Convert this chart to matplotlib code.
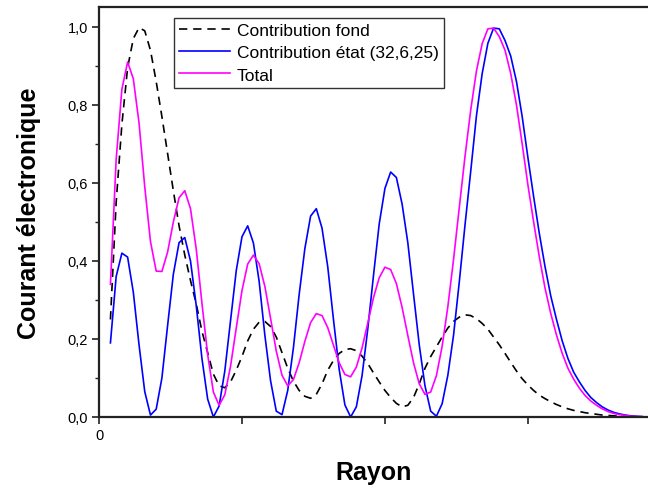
import matplotlib.pyplot as plt
from matplotlib.ticker import FixedLocator, NullFormatter

plt.rcParams['font.family'] = ['Liberation Sans', 'DejaVu Sans']

# Rayon (unites arbitraires, une graduation = 1)
rayon = [0.08, 0.12, 0.16, 0.20, 0.24, 0.28, 0.32, 0.36, 0.40, 0.44,
         0.48, 0.52, 0.56, 0.60, 0.64, 0.68, 0.72, 0.76, 0.80, 0.84,
         0.88, 0.92, 0.96, 1.00, 1.04, 1.08, 1.12, 1.16, 1.20, 1.24,
         1.28, 1.32, 1.36, 1.40, 1.44, 1.48, 1.52, 1.56, 1.60, 1.64,
         1.68, 1.72, 1.76, 1.80, 1.84, 1.88, 1.92, 1.96, 2.00, 2.04,
         2.08, 2.12, 2.16, 2.20, 2.24, 2.28, 2.32, 2.36, 2.40, 2.44,
         2.48, 2.52, 2.56, 2.60, 2.64, 2.68, 2.72, 2.76, 2.80, 2.84,
         2.88, 2.92, 2.96, 3.00, 3.04, 3.08, 3.12, 3.16, 3.20, 3.24,
         3.28, 3.32, 3.36, 3.40, 3.44, 3.48, 3.52, 3.56, 3.60, 3.64,
         3.68, 3.72, 3.76, 3.80]

fond = [0.25, 0.55, 0.75, 0.895, 0.97, 0.998, 0.99, 0.94, 0.86, 0.77,
        0.675, 0.58, 0.49, 0.415, 0.35, 0.29, 0.22, 0.165, 0.11, 0.08,
        0.075, 0.09, 0.12, 0.155, 0.195, 0.225, 0.243, 0.245, 0.232, 0.205,
        0.165, 0.125, 0.092, 0.068, 0.053, 0.048, 0.058, 0.085, 0.12, 0.145,
        0.163, 0.173, 0.175, 0.17, 0.156, 0.137, 0.113, 0.09, 0.068, 0.05,
        0.035, 0.026, 0.03, 0.05, 0.085, 0.125, 0.155, 0.18, 0.205, 0.228,
        0.245, 0.256, 0.262, 0.26, 0.252, 0.24, 0.225, 0.205, 0.185, 0.163,
        0.14, 0.118, 0.098, 0.082, 0.068, 0.056, 0.047, 0.039, 0.032, 0.026,
        0.021, 0.017, 0.014, 0.011, 0.009, 0.007, 0.005, 0.004, 0.003, 0.002,
        0.001, 0.001, 0.0, 0.0]

etat = [0.19, 0.36, 0.42, 0.41, 0.32, 0.185, 0.065, 0.005, 0.02, 0.10,
        0.235, 0.366, 0.447, 0.46, 0.40, 0.286, 0.15, 0.046, 0.0, 0.028,
        0.118, 0.247, 0.375, 0.462, 0.49, 0.446, 0.348, 0.21, 0.093, 0.015,
        0.006, 0.068, 0.178, 0.314, 0.432, 0.515, 0.534, 0.484, 0.385, 0.25,
        0.122, 0.031, 0.0, 0.026, 0.106, 0.226, 0.363, 0.495, 0.586, 0.628,
        0.614, 0.546, 0.447, 0.315, 0.185, 0.08, 0.015, 0.002, 0.034, 0.107,
        0.21, 0.346, 0.492, 0.63, 0.772, 0.88, 0.958, 0.997, 0.995, 0.965,
        0.925, 0.86, 0.77, 0.665, 0.565, 0.47, 0.385, 0.31, 0.25, 0.195,
        0.15, 0.115, 0.09, 0.068, 0.05, 0.037, 0.026, 0.018, 0.012, 0.008,
        0.005, 0.003, 0.002, 0.001]

total = [0.34, 0.66, 0.84, 0.91, 0.867, 0.754, 0.59, 0.45, 0.374, 0.373,
         0.423, 0.50, 0.562, 0.58, 0.534, 0.431, 0.292, 0.16, 0.064, 0.03,
         0.057, 0.13, 0.228, 0.324, 0.392, 0.415, 0.393, 0.335, 0.253, 0.169,
         0.107, 0.08, 0.096, 0.139, 0.194, 0.242, 0.265, 0.26, 0.229, 0.184,
         0.139, 0.109, 0.103, 0.128, 0.177, 0.241, 0.306, 0.357, 0.384, 0.378,
         0.342, 0.281, 0.209, 0.139, 0.085, 0.058, 0.064, 0.106, 0.181, 0.283,
         0.404, 0.537, 0.668, 0.787, 0.887, 0.957, 0.995, 0.997, 0.975, 0.94,
         0.88, 0.80, 0.70, 0.595, 0.50, 0.41, 0.33, 0.265, 0.21, 0.163,
         0.125, 0.097, 0.074, 0.055, 0.041, 0.03, 0.021, 0.014, 0.009, 0.006,
         0.004, 0.002, 0.001, 0.001]

y_ticks = [0.0, 0.2, 0.4, 0.6, 0.8, 1.0]
y_labels = ['0,0', '0,2', '0,4', '0,6', '0,8', '1,0']
x_ticks = [0, 1, 2, 3]
x_labels = ['0', '', '', '']

fig = plt.figure(figsize=(6.48, 4.89), dpi=100)
ax = fig.add_axes([99 / 648, 1 - 418 / 489, 1 - 99 / 648, 410 / 489])

ax.plot(rayon, fond, color='black', lw=1.2, linestyle=(0, (5, 3.5)),
        label='Contribution fond')
ax.plot(rayon, etat, color='#0000ff', lw=1.2,
        label='Contribution état (32,6,25)')
ax.plot(rayon, total, color='#ff00ff', lw=1.2, label='Total')

ax.set_xlim(0, 3.84)
ax.set_ylim(0, 1.051)

ax.set_yticks(y_ticks)
ax.set_yticklabels(y_labels)
ax.yaxis.set_minor_locator(FixedLocator([0.1, 0.3, 0.5, 0.7, 0.9]))
ax.yaxis.set_minor_formatter(NullFormatter())
ax.set_xticks(x_ticks)
ax.set_xticklabels(x_labels)

ax.tick_params(axis='both', which='major', direction='out', length=5,
               width=1.2, color='#222222', labelsize=10.5, pad=3)
ax.tick_params(axis='y', which='minor', direction='out', length=3,
               width=1.0, color='#222222')

ax.spines['right'].set_visible(False)
for side in ['left', 'top', 'bottom']:
    ax.spines[side].set_linewidth(1.6)
    ax.spines[side].set_color('#222222')

ax.set_xlabel('Rayon', fontsize=18, fontweight='bold', labelpad=13)
ax.set_ylabel('Courant électronique', fontsize=18, fontweight='bold',
              labelpad=19)

leg = ax.legend(loc='upper left', bbox_to_anchor=(174 / 648, 1 - 19 / 489),
                bbox_transform=fig.transFigure, fontsize=12.5, frameon=True,
                fancybox=False, shadow=False, borderaxespad=0,
                handlelength=2.9, handletextpad=0.4, labelspacing=0.4,
                borderpad=0.3)
leg.get_frame().set_edgecolor('black')
leg.get_frame().set_linewidth(1.0)

fig.savefig('out.png', dpi=100)
